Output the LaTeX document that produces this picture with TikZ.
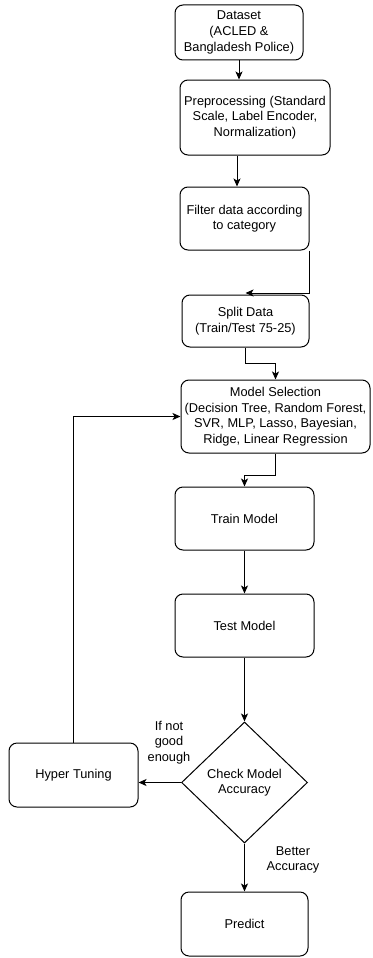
\documentclass[tikz,border=0pt]{standalone}
\usepackage{fontspec}
\setmainfont{Liberation Sans}
\usetikzlibrary{shapes.geometric,arrows.meta,calc}
\begin{document}
\begin{tikzpicture}[x=1pt,y=-1pt,
  box/.style={draw, rounded corners=8pt, line width=1pt, align=center, inner sep=0pt,
    font=\fontsize{12.8}{15.6}\selectfont},
  dia/.style={draw, diamond, aspect=1, line width=1pt, align=center, inner sep=0pt,
    font=\fontsize{12.8}{15.6}\selectfont},
  arr/.style={-{Stealth[length=8pt,width=7pt,inset=2pt]}, line width=1pt},
  lbl/.style={align=center, inner sep=0pt, font=\fontsize{12.8}{15.6}\selectfont}]
\useasboundingbox (0,0) rectangle (372,958);

\node[box, minimum width=128pt, minimum height=55pt] (dataset) at (239,32.5)
  {Dataset\\(ACLED \&\\Bangladesh Police)};
\node[box, minimum width=150pt, minimum height=75pt] (preproc) at (255,117.5)
  {Preprocessing (Standard\\Scale, Label Encoder,\\Normalization)};
\node[box, minimum width=129pt, minimum height=63pt] (filter) at (244.5,218.5)
  {Filter data according\\to category};
\node[box, minimum width=127pt, minimum height=52pt] (split) at (245.5,321)
  {Split Data\\(Train/Test 75-25)};
\node[box, minimum width=189pt, minimum height=73pt] (model) at (275.5,416.5)
  {Model Selection\\(Decision Tree, Random Forest,\\SVR, MLP, Lasso, Bayesian,\\Ridge, Linear Regression};
\node[box, minimum width=139pt, minimum height=63pt] (train) at (244.5,518.5)
  {Train Model};
\node[box, minimum width=139pt, minimum height=63pt] (test) at (244.5,625.5)
  {Test Model};
\node[dia, minimum width=126pt, minimum height=121pt] (check) at (244.5,782.5)
  {Check Model\\Accuracy};
\node[box, minimum width=129pt, minimum height=64pt] (hyper) at (73.5,775)
  {Hyper Tuning};
\node[box, minimum width=127pt, minimum height=64pt] (predict) at (244.5,924)
  {Predict};

\node[lbl] (lnot) at (169,742.5) {If not\\good\\enough};
\node[lbl] (lbetter) at (293,860) {Better\\Accuracy};

\draw[arr] (dataset.south) -- (dataset.south |- preproc.north);
\draw[arr] ([xshift=-18pt]preproc.south) -- ([xshift=-18pt]preproc.south |- filter.north);
\draw[arr] (filter.south east) |- ([yshift=1.5pt]split.north);
\draw[arr] (split.south) -- ++(0,16) -| (model.north);
\draw[arr] (model.south) -- ++(0,22) -| (train.north);
\draw[arr] (train.south) -- (test.north);
\draw[arr] (test.south) -- (check.north);
\draw[arr] (check.west) -- (check.west -| hyper.east);
\draw[arr] (hyper.north) |- (model.west);
\draw[arr] (check.south) -- (predict.north);
\end{tikzpicture}
\end{document}
